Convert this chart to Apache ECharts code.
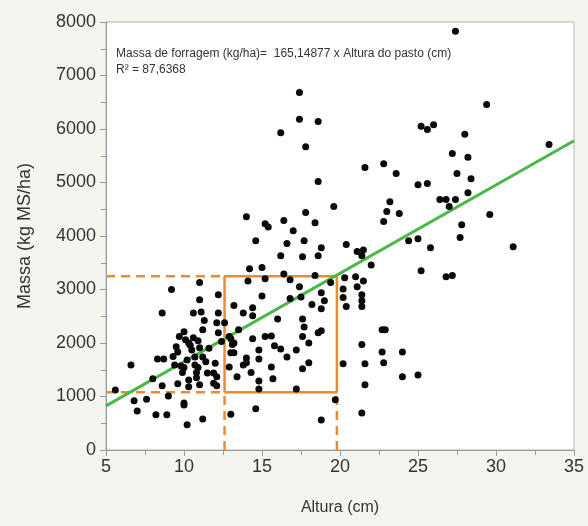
<!DOCTYPE html>
<html>
<head>
<meta charset="utf-8">
<script src="https://cdn.jsdelivr.net/npm/echarts@6/dist/echarts.min.js"></script>
<style>
  html, body { margin: 0; padding: 0; background: #f5f5f0; }
  #main { width: 588px; height: 526px; }
</style>
</head>
<body>
<div id="main"></div>
<script>
// altura do pasto (cm) e massa de forragem (kg MS/ha)
var alturas = [
  27.4, 29.4, 17.4, 17.4, 18.6, 16.2, 17.8, 14.0, 25.2, 25.6, 26.0, 28.0, 27.2, 28.2, 28.4,
  21.6, 22.8, 23.6, 25.0, 25.6, 27.5, 28.2, 23.2, 23.0, 23.8, 22.8, 26.4, 26.8, 27.4, 27.0,
  33.4, 29.6, 27.8, 27.7, 24.4, 25.0, 25.8, 31.1, 25.2, 26.8, 27.2, 22.0, 22.7, 22.9, 22.7,
  24.0, 22.8, 24.0, 25.0, 19.6, 20.4, 21.1, 21.5, 21.4, 20.3, 21.0, 21.5, 21.1, 20.2, 20.2,
  20.4, 21.4, 21.4, 21.4, 21.4, 20.2, 21.6, 21.6, 19.7, 21.4, 18.6, 15.2, 15.4, 16.4, 17.8,
  18.4, 17.0, 14.6, 16.6, 17.7, 18.8, 16.2, 17.6, 18.6, 14.2, 15.0, 16.4, 18.4, 14.1, 15.2,
  16.8, 19.4, 17.4, 15.0, 16.8, 17.5, 18.8, 19.0, 18.8, 13.2, 13.8, 14.4, 14.4, 17.6, 17.7,
  18.6, 18.8, 13.0, 13.5, 14.4, 15.2, 15.6, 17.6, 18.0, 13.1, 13.2, 14.0, 14.8, 16.2, 17.2,
  18.0, 17.6, 14.0, 14.8, 15.6, 16.6, 13.4, 14.8, 14.8, 15.7, 17.2, 13.0, 14.6, 18.8, 9.2,
  11.0, 12.2, 11.0, 8.6, 10.6, 11.1, 12.2, 12.1, 12.6, 11.2, 10.0, 9.7, 10.1, 10.3, 10.6,
  12.2, 12.9, 13.2, 9.5, 10.5, 11.0, 9.6, 10.7, 11.2, 13.0, 8.3, 8.7, 6.6, 9.4, 9.8,
  10.7, 10.9, 10.0, 12.9, 13.8, 8.0, 10.8, 10.3, 11.5, 11.9, 12.1, 9.6, 8.6, 11.0, 10.3,
  11.9, 12.1, 5.6, 6.8, 7.0, 7.6, 9.0, 10.0, 10.0, 8.2, 8.9, 10.2, 11.2,
  10.4, 10.9, 11.4, 9.9, 10.2, 11.6, 12.4, 9.3, 10.8, 11.3, 12.0, 16.0, 15.8, 18.2, 14.3
];
var massas = [
  7825, 6460, 6680, 6180, 6140, 5930, 5670, 4360, 6050, 5990, 6080, 5900, 5540, 5470, 5070,
  5280, 5350, 5170, 4960, 4980, 5170, 4810, 4640, 4460, 4420, 4270, 4680, 4680, 4680, 4550,
  5710, 4400, 4210, 3970, 3910, 3950, 3780, 3800, 3350, 3240, 3260, 3460, 2250, 2250, 1830,
  1830, 1630, 1370, 1400, 4550, 3840, 3710, 3740, 3630, 3220, 3240, 3160, 3050, 3010, 2850,
  2680, 2900, 2790, 2680, 1970, 1610, 1610, 1220, 940, 690, 5020, 4230, 4170, 4290, 4440,
  4250, 4100, 3910, 3860, 3910, 3780, 3630, 3610, 3630, 3390, 3410, 3290, 3260, 3160, 3200,
  3180, 3130, 3050, 2880, 2830, 2860, 2940, 2790, 2640, 2700, 2560, 2660, 2510, 2450, 2300,
  2190, 2230, 2080, 2250, 2080, 2120, 2130, 2120, 2000, 1970, 1820, 1720, 1870, 1890, 1870,
  1630, 1520, 1630, 1700, 1550, 1740, 1370, 1290, 1140, 1330, 1140, 670, 770, 560, 3000,
  3130, 2900, 2810, 2560, 2560, 2580, 2560, 2380, 2380, 2250, 2210, 2120, 2060, 2000, 2100,
  2190, 2120, 2000, 1930, 1870, 1910, 1830, 1740, 1740, 1820, 1700, 1700, 1590, 1590, 1570,
  1590, 1540, 1540, 1550, 1590, 1330, 1350, 1310, 1440, 1440, 1370, 1240, 1200, 1220, 1180,
  1250, 1200, 1120, 920, 730, 950, 1010, 880, 840, 660, 660, 470, 580,
  1960, 2040, 1650, 1450, 1680, 1900, 2030, 1750, 1450, 2420, 1620, 2450, 1950, 2720, 1450
];

var coeficiente = 165.14877;      // kg/ha por cm
var faixaAltura = [12.6, 19.8];   // faixa de manejo (cm)
var faixaMassa = [1080, 3250];    // massa correspondente (kg MS/ha)

var pontos = alturas.map(function (a, i) { return [a, massas[i]]; });
var reta = [5, 35].map(function (a) { return [a, coeficiente * a]; });

var laranja = '#ef8a2e';
var tracejado = { color: laranja, width: 2.5, type: [9, 6] };
var fonte = "'Liberation Sans', Arial, sans-serif";

var chart = echarts.init(document.getElementById('main'));
chart.setOption({
  backgroundColor: '#f5f5f0',
  animation: false,
  grid: {
    left: 106, right: 14, top: 22, bottom: 76,
    show: true, backgroundColor: '#ffffff', borderColor: '#b5b5b5', borderWidth: 1
  },
  graphic: [
    {
      type: 'text', left: 116, top: 46,
      style: {
        text: 'Massa de forragem (kg/ha)=  165,14877 x Altura do pasto (cm)\nR\u00b2 = 87,6368',
        font: "12px 'Liberation Sans', Arial, sans-serif",
        fill: '#333', lineHeight: 16
      }
    }
  ],
  xAxis: {
    type: 'value', min: 5, max: 35, interval: 5,
    name: 'Altura (cm)', nameLocation: 'middle', nameGap: 50,
    nameTextStyle: { color: '#333', fontSize: 16, fontFamily: fonte },
    axisLine: { lineStyle: { color: '#9a9a9a' } },
    axisTick: { length: 6, lineStyle: { color: '#9a9a9a' } },
    minorTick: { show: true, splitNumber: 2, length: 5, lineStyle: { color: '#9a9a9a' } },
    axisLabel: { color: '#333', fontSize: 18, fontFamily: fonte, margin: 8 },
    splitLine: { show: false }
  },
  yAxis: {
    type: 'value', min: 0, max: 8000, interval: 1000,
    name: 'Massa (kg MS/ha)', nameLocation: 'middle', nameGap: 72,
    nameTextStyle: { color: '#333', fontSize: 18, fontFamily: fonte },
    axisLine: { show: true, lineStyle: { color: '#9a9a9a' } },
    axisTick: { show: true, length: 6, lineStyle: { color: '#9a9a9a' } },
    minorTick: { show: true, splitNumber: 2, length: 5, lineStyle: { color: '#9a9a9a' } },
    axisLabel: {
      color: '#333', fontSize: 18, fontFamily: fonte, margin: 10,
      formatter: function (v) { return String(v); }
    },
    splitLine: { show: false }
  },
  series: [
    {
      type: 'line', data: [[5, faixaMassa[1]], [faixaAltura[0], faixaMassa[1]]],
      symbol: 'none', lineStyle: tracejado, z: 2
    },
    {
      type: 'line', data: [[5, faixaMassa[0]], [faixaAltura[0], faixaMassa[0]]],
      symbol: 'none', lineStyle: tracejado, z: 2
    },
    {
      type: 'line', data: [[faixaAltura[0], 0], [faixaAltura[0], faixaMassa[0]]],
      symbol: 'none', lineStyle: tracejado, z: 2
    },
    {
      type: 'line', data: [[faixaAltura[1], 0], [faixaAltura[1], faixaMassa[0]]],
      symbol: 'none', lineStyle: tracejado, z: 2
    },
    {
      type: 'line',
      data: [
        [faixaAltura[0], faixaMassa[0]], [faixaAltura[0], faixaMassa[1]],
        [faixaAltura[1], faixaMassa[1]], [faixaAltura[1], faixaMassa[0]],
        [faixaAltura[0], faixaMassa[0]]
      ],
      symbol: 'none', lineStyle: { color: laranja, width: 2.5 }, z: 2
    },
    {
      type: 'line', data: reta, symbol: 'none',
      lineStyle: { color: '#48b848', width: 3 }, z: 3
    },
    {
      type: 'scatter', data: pontos, symbolSize: 7,
      itemStyle: { color: '#0a0a0a', opacity: 1 }, z: 4
    }
  ]
});
</script>
</body>
</html>
